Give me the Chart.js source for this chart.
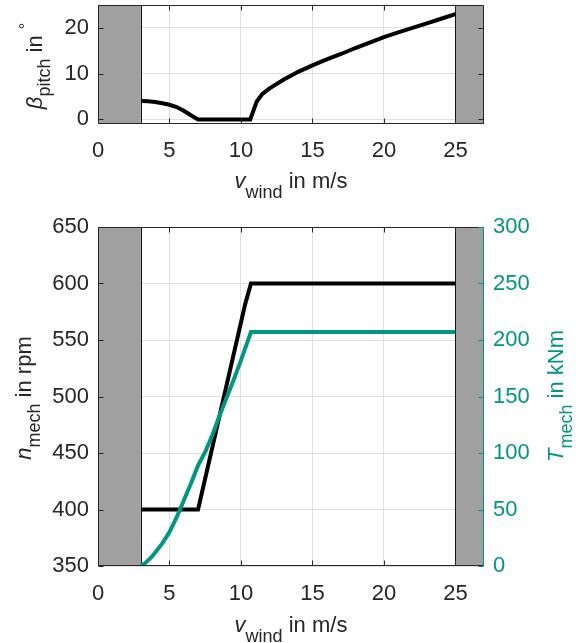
<!DOCTYPE html>
<html><head><meta charset="utf-8">
<script src="https://cdn.jsdelivr.net/npm/chart.js@4/dist/chart.umd.min.js"></script>
<style>
html,body{margin:0;padding:0;background:#fff;overflow:hidden;}
canvas{position:absolute;left:0;}
#c1{top:0;}
#c2{top:205px;}
</style></head><body>
<canvas id="c1" width="584" height="205"></canvas>
<canvas id="c2" width="584" height="438"></canvas>
<script>
// ---------- data ----------
const xTicks = [0, 5, 10, 15, 20, 25];
const pitchTicks = [0, 10, 20];
const speedTicks = [350, 400, 450, 500, 550, 600, 650];
const torqueTicks = [0, 50, 100, 150, 200, 250, 300];
const outOfRange = [[0, 3], [25, 27]];

const windPitch = [3, 3.5, 4, 4.5, 5, 5.5, 6, 6.5, 7, 10.65, 11.1, 11.5, 12, 13, 14, 15, 16, 17, 18, 19, 20, 21, 22, 23, 24, 25];
const pitchDeg  = [4.0, 3.95, 3.8, 3.55, 3.2, 2.7, 1.9, 0.9, 0, 0, 3.9, 5.6, 6.8, 8.7, 10.4, 11.8, 13.1, 14.3, 15.6, 16.8, 18.0, 19.0, 20.0, 21.0, 22.0, 23.0];

const windSpeed = [3, 7, 10.3, 10.7, 25];
const speedRpm  = [400, 400, 582, 600, 600];

const windTorque = [3, 3.25, 3.5, 3.75, 4, 4.5, 5, 5.5, 6, 6.5, 7, 7.5, 8, 8.5, 9, 9.5, 10, 10.7, 25];
const torqueKNm  = [0, 2, 5, 8, 12, 20, 30, 43, 58, 73, 89, 101, 116, 133, 149, 165, 182, 207, 207];

// ---------- style ----------
const axisColor = '#262626';
const gridColor = '#dfdfdf';
const teal = '#009682';
const bandFill = '#a0a0a0';
const FF = '"Liberation Sans", Arial, sans-serif';
const tickFont = {family: FF, size: 22};

function pts(xs, ys) { return xs.map((x, i) => ({x: x, y: ys[i]})); }

function drawRich(ctx, parts, cx, cy, rot, color) {
  ctx.save();
  ctx.translate(cx, cy);
  ctx.rotate(rot);
  ctx.fillStyle = color;
  ctx.textBaseline = 'alphabetic';
  ctx.textAlign = 'left';
  let total = 0;
  parts.forEach(p => { ctx.font = p.font; p.w = ctx.measureText(p.text).width; total += p.w; });
  let x = -total / 2;
  parts.forEach(p => { ctx.font = p.font; ctx.fillText(p.text, x, p.dy || 0); x += p.w; });
  ctx.restore();
}
const MAIN = '22px ' + FF, ITAL = 'italic 22px ' + FF, SUB = '18px ' + FF, DEG = '16px ' + FF;

function makePlugin(cfg) {
  return {
    id: 'deco',
    beforeDatasetsDraw(chart) {
      const {ctx, chartArea: a, scales} = chart;
      const sx = scales.x;
      ctx.save();
      ctx.fillStyle = bandFill;
      outOfRange.forEach(([v0, v1]) => {
        const p0 = sx.getPixelForValue(v0), p1 = sx.getPixelForValue(v1);
        ctx.fillRect(p0, a.top, p1 - p0, a.bottom - a.top);
      });
      ctx.strokeStyle = '#111';
      ctx.lineWidth = 1;
      [outOfRange[0][1], outOfRange[1][0]].forEach(v => {
        const p = Math.round(sx.getPixelForValue(v)) + 0.5;
        ctx.beginPath(); ctx.moveTo(p, a.top); ctx.lineTo(p, a.bottom); ctx.stroke();
      });
      ctx.restore();
    },
    afterDatasetsDraw(chart) {
      const {ctx, chartArea: a, scales} = chart;
      const L = Math.round(a.left) + 0.5, R = Math.round(a.right) - 0.5;
      const T = Math.round(a.top) + 0.5, B = Math.round(a.bottom) - 0.5;
      const tl = 5;
      ctx.save();
      ctx.lineWidth = 1;
      ctx.strokeStyle = axisColor;
      xTicks.forEach(v => {
        const p = Math.round(scales.x.getPixelForValue(v)) + 0.5;
        ctx.beginPath(); ctx.moveTo(p, B); ctx.lineTo(p, B - tl); ctx.moveTo(p, T); ctx.lineTo(p, T + tl); ctx.stroke();
      });
      cfg.leftTicks.forEach(v => {
        const p = Math.round(scales.y.getPixelForValue(v)) + 0.5;
        ctx.beginPath(); ctx.moveTo(L, p); ctx.lineTo(L + tl, p);
        if (!cfg.rightScale) { ctx.moveTo(R, p); ctx.lineTo(R - tl, p); }
        ctx.stroke();
      });
      ctx.beginPath();
      ctx.moveTo(L, T); ctx.lineTo(R, T);
      ctx.moveTo(L, B); ctx.lineTo(R, B);
      ctx.moveTo(L, T); ctx.lineTo(L, B);
      if (!cfg.rightScale) { ctx.moveTo(R, T); ctx.lineTo(R, B); }
      ctx.stroke();
      if (cfg.rightScale) {
        ctx.strokeStyle = teal;
        ctx.beginPath(); ctx.moveTo(R, T); ctx.lineTo(R, B); ctx.stroke();
        cfg.rightTicks.forEach(v => {
          const p = Math.round(scales.y1.getPixelForValue(v)) + 0.5;
          ctx.beginPath(); ctx.moveTo(R, p); ctx.lineTo(R - tl, p); ctx.stroke();
        });
      }
      ctx.restore();
    },
    afterDraw(chart) {
      const {ctx} = chart;
      cfg.titles.forEach(t => drawRich(ctx, t.parts, t.x, t.y, t.rot, t.color));
    }
  };
}

function xScale(h, pad) {
  return {
    type: 'linear', min: 0, max: 27,
    afterBuildTicks: s => { s.ticks = xTicks.map(v => ({value: v})); },
    ticks: {font: tickFont, color: axisColor, padding: pad, maxRotation: 0},
    grid: {color: gridColor, drawTicks: false},
    border: {display: false},
    afterFit: s => { s.height = h; s.paddingLeft = 0; s.paddingRight = 0; }
  };
}
function yScale(min, max, ticks, color, pos, w, pad, grid) {
  return {
    type: 'linear', position: pos, min: min, max: max,
    afterBuildTicks: s => { s.ticks = ticks.map(v => ({value: v})); },
    ticks: {font: tickFont, color: color, padding: pad},
    grid: grid ? {color: gridColor, drawTicks: false} : {display: false, drawTicks: false},
    border: {display: false},
    afterFit: s => { s.width = w; s.paddingTop = 0; s.paddingBottom = 0; }
  };
}

// ---------- top chart ----------
new Chart(document.getElementById('c1'), {
  type: 'line',
  data: {datasets: [{
    data: pts(windPitch, pitchDeg), borderColor: '#000', borderWidth: 4,
    pointRadius: 0, tension: 0, fill: false
  }]},
  options: {
    responsive: false, animation: false, events: [],
    layout: {padding: {left: 0, right: 100, top: 5, bottom: 0}},
    plugins: {legend: {display: false}, tooltip: {enabled: false}},
    scales: {
      x: xScale(81, 14),
      y: yScale(-1, 25, pitchTicks, axisColor, 'left', 98, 9, true)
    }
  },
  plugins: [makePlugin({
    leftTicks: pitchTicks, rightScale: false,
    titles: [
      {parts: [{text: 'v', font: ITAL}, {text: 'wind', font: SUB, dy: 10}, {text: ' in m/s', font: MAIN}], x: 291, y: 188, rot: 0, color: axisColor},
      {parts: [{text: 'β', font: ITAL}, {text: 'pitch', font: SUB, dy: 8}, {text: ' in ', font: MAIN}, {text: '°', font: DEG, dy: -11}], x: 42, y: 66, rot: -Math.PI / 2, color: axisColor}
    ]
  })]
});

// ---------- bottom chart ----------
new Chart(document.getElementById('c2'), {
  type: 'line',
  data: {datasets: [
    {data: pts(windSpeed, speedRpm), yAxisID: 'y', borderColor: '#000', borderWidth: 4, pointRadius: 0, tension: 0, fill: false, order: 2},
    {data: pts(windTorque, torqueKNm), yAxisID: 'y1', borderColor: teal, borderWidth: 4, pointRadius: 0, tension: 0, fill: false, order: 1}
  ]},
  options: {
    responsive: false, animation: false, events: [],
    layout: {padding: {left: 0, right: 0, top: 22, bottom: 0}},
    plugins: {legend: {display: false}, tooltip: {enabled: false}},
    scales: {
      x: xScale(77, 15),
      y: yScale(350, 650, speedTicks, axisColor, 'left', 98, 9, true),
      y1: yScale(0, 300, torqueTicks, teal, 'right', 100, 9, false)
    }
  },
  plugins: [makePlugin({
    leftTicks: speedTicks, rightScale: true, rightTicks: torqueTicks,
    titles: [
      {parts: [{text: 'v', font: ITAL}, {text: 'wind', font: SUB, dy: 10}, {text: ' in m/s', font: MAIN}], x: 291, y: 427, rot: 0, color: axisColor},
      {parts: [{text: 'n', font: ITAL}, {text: 'mech', font: SUB, dy: 9}, {text: ' in rpm', font: MAIN}], x: 31, y: 193, rot: -Math.PI / 2, color: axisColor},
      {parts: [{text: 'T', font: ITAL}, {text: 'mech', font: SUB, dy: 9}, {text: ' in kNm', font: MAIN}], x: 563, y: 191, rot: -Math.PI / 2, color: teal}
    ]
  })]
});
</script>
</body></html>
